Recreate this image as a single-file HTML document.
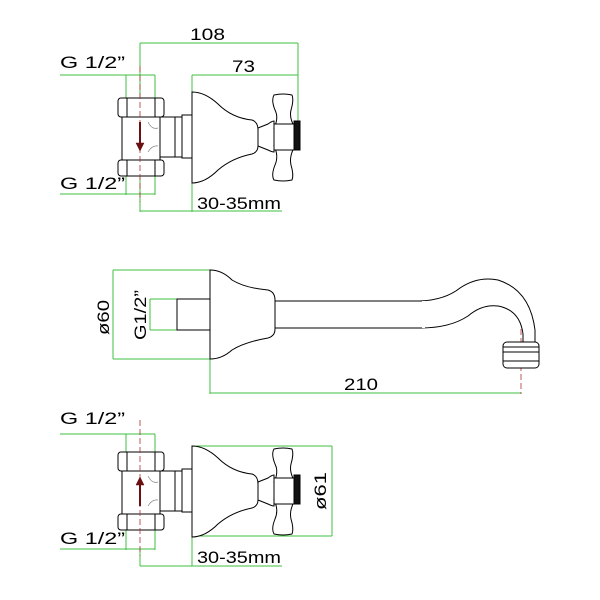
<!DOCTYPE html>
<html><head><style>html,body{margin:0;padding:0;background:#fff}svg{display:block}</style></head><body>
<svg width="600" height="600" viewBox="0 0 600 600" xmlns="http://www.w3.org/2000/svg" font-family="Liberation Sans, sans-serif">
<defs>
<g id="valve" fill="#fff" stroke="#000" stroke-width="1">
  <rect x="122" y="117" width="38" height="43"/>
  <path d="M148 122 Q152 130 158 128 M148 152 Q152 145 158 146" fill="none" stroke="#888" stroke-width="0.7"/>
  <rect x="160" y="117" width="22" height="40"/>
  <rect x="175" y="117" width="7" height="40"/>
  <rect x="182" y="115" width="10" height="43"/>
  <g>
    <rect x="118" y="98" width="46" height="19" rx="3"/>
    <path d="M127 98 v19 M155 98 v19"/>
    <rect x="118" y="160" width="46" height="16" rx="3"/>
    <path d="M127 160 v16 M155 160 v16"/>
  </g>
  <path d="M192 92 Q205 92 218 104 Q232 118 252 120 Q258 122 258 130 L258 146 Q258 152 252 154 Q232 158 218 170 Q205 183 192 183 Z"/>
  <path d="M258 128 L268 124 Q272 121 274 121 L274 152 Q272 152 268 150 L258 146 Z"/>
  <path d="M274 95 Q283 93 292 95 Q294 100 291 110 Q289 118 295 128 L274 128 Q279 118 275 110 Q271 100 274 95 Z"/>
  <path d="M274 180 Q283 182 292 180 Q294 175 291 165 Q289 156 295 146 L274 146 Q279 156 275 165 Q271 175 274 180 Z"/>
  <rect x="274" y="124" width="21" height="26" fill="#fff"/>
  <rect x="294" y="121" width="6" height="29" fill="#111"/>
</g>
</defs>

<g stroke="#3fbf3f" stroke-width="1" fill="none">
  <path d="M140 43 H298 M298 43 V125 M192 75 H298 M192 75 V212 M140 43 V212 M140 211 H282"/>
  <path d="M60 75 H155 M126 75 V195 M155 75 V195 M60 194 H155"/>
  <path d="M113 270 V359 M113 270 H210 M113 359 H210 M150 299 V330 M150 299 H177 M150 330 H177 M210 359 V394 M210 393 H521"/>
  <path d="M60 434 H155 M126 434 V550 M155 434 V550 M60 549 H155"/>
  <path d="M192 446 H332 M192 536 H332 M332 446 V536 M192 536 V566 M140 548 V566 M140 566 H282"/>
</g>

<use href="#valve"/>
<use href="#valve" transform="translate(0,354)"/>

<g stroke="#b03030" stroke-width="0.8" stroke-dasharray="6,3" fill="none">
  <path d="M140 66 V202"/>
  <path d="M140 420 V556"/>
  <path d="M521 320 V394"/>
</g>
<g stroke="#6a1010" stroke-width="2" fill="#6a1010">
  <path d="M140 122 V146"/><path d="M136 143 L140 151 L144 143 Z" stroke-width="0.5"/>
  <path d="M140 506 V482"/><path d="M136 485 L140 477 L144 485 Z" stroke-width="0.5"/>
</g>

<g fill="#fff" stroke="#000" stroke-width="1">
  <rect x="177" y="299" width="33" height="31"/>
  <path d="M420 301 Q445 300 460 288 Q478 276 498 280 Q530 290 535 330 L535 342 L523 342 L523 334 Q520 310 498 306 Q482 304 468 316 Q450 328 420 328 Z"/>
  <rect x="275" y="301" width="150" height="27" stroke="none"/>
  <path d="M275 301 H422 M275 328 H422" fill="none"/>
  <path d="M210 270 Q222 270 232 280 Q245 288 268 290 Q275 292 275 300 L275 329 Q275 336 268 338 Q245 342 232 350 Q222 359 210 359 Z"/>
  <rect x="503" y="342" width="36" height="26" rx="4"/>
  <path d="M503 347 H539 M503 352 H539 M503 361 H539" fill="none"/>
</g>

<g font-size="17" fill="#000" font-weight="normal">
  <text x="190" y="40" textLength="35" lengthAdjust="spacingAndGlyphs">108</text>
  <text x="232" y="72" textLength="23" lengthAdjust="spacingAndGlyphs">73</text>
  <text x="60" y="68" textLength="65" lengthAdjust="spacingAndGlyphs">G 1/2”</text>
  <text x="60" y="189" textLength="65" lengthAdjust="spacingAndGlyphs">G 1/2”</text>
  <text x="197" y="209" textLength="84" lengthAdjust="spacingAndGlyphs">30-35mm</text>
  <text x="344" y="390" textLength="34" lengthAdjust="spacingAndGlyphs">210</text>
  <text x="60" y="424" textLength="65" lengthAdjust="spacingAndGlyphs">G 1/2”</text>
  <text x="60" y="544" textLength="65" lengthAdjust="spacingAndGlyphs">G 1/2”</text>
  <text x="197" y="563" textLength="84" lengthAdjust="spacingAndGlyphs">30-35mm</text>
  <text transform="translate(109,300) rotate(-90)" textLength="35" lengthAdjust="spacingAndGlyphs" x="-35">ø60</text>
  <text transform="translate(146,290) rotate(-90)" textLength="50" lengthAdjust="spacingAndGlyphs" x="-50">G1/2”</text>
  <text transform="translate(326,472) rotate(-90)" textLength="38" lengthAdjust="spacingAndGlyphs" x="-38">ø61</text>
</g>
</svg>
</body></html>
